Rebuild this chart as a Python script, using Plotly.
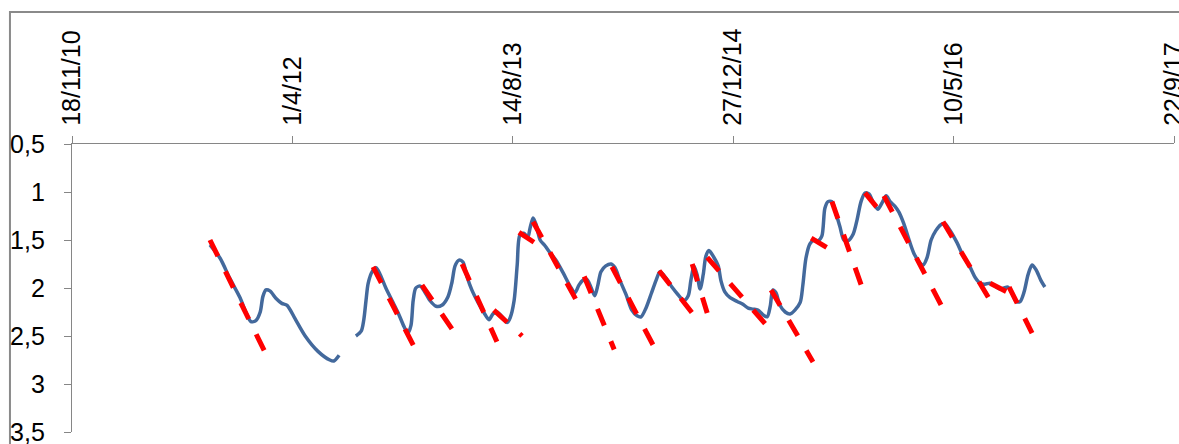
import pandas as pd
import plotly.graph_objects as go

# Water-table depth below ground (m); dates are Excel serial day numbers.
# First monitoring period
level_days_a = [40813, 40836, 40858, 40881, 40897, 40906, 40917, 40927, 40933, 40940,
                40949, 40963, 40976, 40988, 41006, 41029, 41058, 41085, 41094, 41106]
level_vals_a = [1.55, 1.69, 1.90, 2.10, 2.28, 2.35, 2.34, 2.25, 2.09, 2.02,
                2.03, 2.11, 2.16, 2.18, 2.32, 2.50, 2.66, 2.75, 2.76, 2.70]

# Second monitoring period
level_days_b = [41144, 41156, 41162, 41167, 41172, 41181, 41190, 41199, 41212, 41226,
                41240, 41253, 41262, 41269, 41274, 41280, 41290, 41299, 41312, 41326,
                41339, 41353, 41362, 41369, 41378, 41387, 41396, 41407, 41421, 41435,
                41446, 41455, 41464, 41476, 41487, 41494, 41503, 41510, 41516, 41525,
                41534, 41539, 41546, 41553, 41562, 41573, 41584, 41598, 41614, 41630,
                41641, 41650, 41659, 41668, 41677, 41686, 41693, 41700, 41711, 41723,
                41732, 41743, 41757, 41770, 41782, 41791, 41802, 41814, 41825, 41834,
                41848, 41861, 41875, 41888, 41898, 41904, 41911, 41918, 41925, 41932,
                41938, 41945, 41956, 41966, 41972, 41981, 41993, 42009, 42022, 42034,
                42045, 42056, 42068, 42077, 42084, 42090, 42097, 42106, 42118, 42129,
                42140, 42152, 42158, 42165, 42174, 42183, 42192, 42201, 42208, 42215,
                42224, 42233, 42242, 42251, 42260, 42272, 42281, 42290, 42299, 42308,
                42317, 42328, 42338, 42347, 42356, 42367, 42376, 42387, 42399, 42410,
                42422, 42431, 42440, 42449, 42460, 42471, 42480, 42492, 42508, 42521,
                42537, 42549, 42560, 42571, 42583, 42594, 42605, 42614, 42623, 42632,
                42642, 42651, 42660, 42669, 42678, 42687, 42698, 42707]
level_vals_b = [2.50, 2.45, 2.33, 2.13, 1.95, 1.83, 1.79, 1.86, 2.00, 2.13,
                2.26, 2.40, 2.47, 2.39, 2.13, 2.00, 1.98, 2.03, 2.13, 2.19,
                2.18, 2.09, 1.94, 1.77, 1.71, 1.73, 1.88, 2.02, 2.15, 2.26,
                2.33, 2.27, 2.25, 2.30, 2.36, 2.31, 2.13, 1.76, 1.45, 1.43,
                1.47, 1.38, 1.27, 1.34, 1.50, 1.56, 1.63, 1.71, 1.84, 1.98,
                2.05, 1.97, 1.92, 1.91, 1.99, 2.08, 1.97, 1.83, 1.77, 1.75,
                1.79, 1.92, 2.07, 2.23, 2.29, 2.30, 2.21, 2.06, 1.92, 1.83,
                1.90, 1.99, 2.07, 2.13, 2.08, 1.92, 1.77, 1.86, 2.01, 1.86,
                1.67, 1.61, 1.68, 1.77, 1.92, 2.04, 2.10, 2.14, 2.17, 2.21,
                2.22, 2.23, 2.28, 2.30, 2.19, 2.02, 2.05, 2.18, 2.25, 2.27,
                2.23, 2.15, 1.97, 1.69, 1.54, 1.50, 1.51, 1.46, 1.17, 1.10,
                1.10, 1.22, 1.36, 1.50, 1.51, 1.44, 1.29, 1.10, 1.01, 1.02,
                1.10, 1.18, 1.11, 1.04, 1.10, 1.15, 1.21, 1.33, 1.50, 1.64,
                1.73, 1.76, 1.68, 1.50, 1.40, 1.34, 1.33, 1.40, 1.53, 1.66,
                1.78, 1.89, 1.95, 1.96, 1.95, 1.98, 2.01, 2.00, 1.99, 2.05,
                2.14, 2.14, 2.04, 1.86, 1.76, 1.81, 1.92, 1.99]

# Fitted recession segments (straight lines between start and end)
rec_start_day = [40813, 41183, 41294, 41385, 41457, 41514, 41546, 41662, 41725, 41832,
                 41907, 41941, 42086, 42177, 42224, 42299, 42342, 42476, 42583, 42626]
rec_end_day = [40938, 41278, 41364, 41464, 41521, 41550, 41648, 41730, 41820, 41907,
               41941, 42074, 42181, 42213, 42292, 42326, 42480, 42583, 42621, 42678]
rec_start_val = [1.50, 1.78, 1.97, 1.75, 2.23, 1.42, 1.31, 1.88, 1.78, 1.82,
                 1.75, 1.68, 2.02, 1.48, 1.10, 1.01, 1.04, 1.31, 1.95, 1.99]
rec_end_val = [2.67, 2.63, 2.44, 2.56, 2.50, 1.53, 2.16, 2.64, 2.61, 2.26,
               2.26, 2.38, 2.77, 1.58, 1.99, 1.16, 2.25, 2.13, 2.04, 2.47]

# Date axis: every 500 days from 18/11/10
tick_days = [40500, 41000, 41500, 42000, 42500, 43000]
depth_ticks = [0.5, 1, 1.5, 2, 2.5, 3, 3.5]


def to_date(days):
    return pd.to_datetime(days, unit="D", origin="1899-12-30")


# Observed series, with a break between the two periods
obs_x = list(to_date(level_days_a)) + [None] + list(to_date(level_days_b))
obs_y = level_vals_a + [None] + level_vals_b

# Recession lines, one sub-path per segment
rec_x, rec_y = [], []
for d0, d1, v0, v1 in zip(rec_start_day, rec_end_day, rec_start_val, rec_end_val):
    rec_x += [to_date(d0), to_date(d1), None]
    rec_y += [v0, v1, None]

AXIS_GREY = "#868686"
FONT = dict(family="Liberation Sans, Arial, sans-serif", size=25, color="#000000")

fig = go.Figure()
fig.add_trace(go.Scatter(
    x=obs_x, y=obs_y, mode="lines",
    line=dict(color="#43699C", width=3.5, shape="spline", smoothing=0.8),
    connectgaps=False, hoverinfo="skip",
))
fig.add_trace(go.Scatter(
    x=rec_x, y=rec_y, mode="lines",
    line=dict(color="#FF0000", width=5, dash="18px,17px"),
    connectgaps=False, hoverinfo="skip",
))

fig.update_layout(
    width=1179, height=444,
    margin=dict(l=72, r=5, t=144, b=12, pad=0, autoexpand=False),
    paper_bgcolor="#FFFFFF", plot_bgcolor="#FFFFFF",
    showlegend=False,
    separators=", ",
    font=FONT,
    shapes=[dict(
        type="rect", xref="paper", yref="paper",
        x0=-0.0563, x1=1.2, y0=-0.6, y1=1.458,
        line=dict(color="#8A8A8A", width=2), fillcolor="rgba(0,0,0,0)",
        layer="below",
    )],
)
fig.update_xaxes(
    type="date", side="top", automargin=False,
    range=[to_date(tick_days[0]), to_date(tick_days[-1])],
    tickvals=list(to_date(tick_days)), tickformat="%-d/%-m/%y",
    tickangle=-90, ticks="outside", ticklen=7, tickwidth=1, tickcolor=AXIS_GREY,
    ticklabelstandoff=5, ticklabeloverflow="allow",
    showline=True, linecolor=AXIS_GREY, linewidth=1.3,
    showgrid=False, zeroline=False, tickfont=FONT,
)
fig.update_yaxes(
    range=[3.5, 0.5], tickvals=depth_ticks, automargin=False,
    ticks="outside", ticklen=7, tickwidth=1, tickcolor=AXIS_GREY,
    ticklabelstandoff=14, ticklabeloverflow="allow",
    showline=True, linecolor=AXIS_GREY, linewidth=1.3,
    showgrid=False, zeroline=False, tickfont=FONT,
)

fig.write_html("out.html")
